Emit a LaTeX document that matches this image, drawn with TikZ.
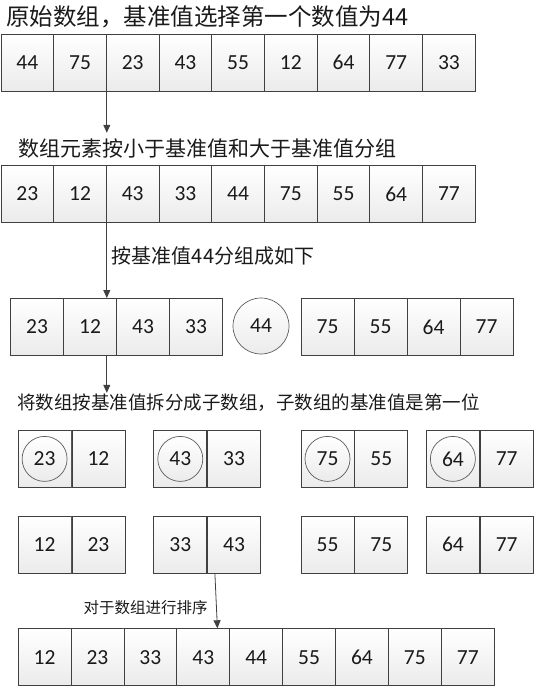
\documentclass[tikz,border=0pt]{standalone}
\usepackage{fontspec}
\setmainfont{Carlito}
\newfontfamily\cjk{Noto Sans CJK SC}
\usetikzlibrary{arrows.meta,calc}
\definecolor{edge}{HTML}{404040}
\definecolor{cellbot}{HTML}{EBEBEB}
\definecolor{txt}{HTML}{1A1A1A}
\tikzset{
  cellbox/.style={draw=edge, line width=0.8pt, top color=white, bottom color=cellbot,
    minimum width=52.8pt, minimum height=57pt, inner sep=0pt, anchor=north west,
    font=\fontsize{21.5}{24}\selectfont, text=txt},
  pivot/.style={circle, draw=edge!85, line width=0.7pt, top color=white, bottom color=cellbot,
    inner sep=0pt, minimum size=45pt, font=\fontsize{21.5}{24}\selectfont, text=txt},
  flow/.style={draw=edge, line width=0.8pt, -{Triangle[width=7pt,length=8pt]}},
  title/.style={anchor=west, inner sep=0pt, text=txt, font=\cjk\fontsize{#1}{#1}\selectfont}
}
\begin{document}
\begin{tikzpicture}[x=1pt,y=-1pt]
\useasboundingbox (0,0) rectangle (534,688);
% titles
\node[title=23.5] (t1) at (6,17) {原始数组，基准值选择第一个数值为44};
\node[title=21] (t2) at (18.3,148) {数组元素按小于基准值和大于基准值分组};
\node[title=20] (t3) at (111.7,256) {按基准值44分组成如下};
\node[title=18.5] (t4) at (17,403) {将数组按基准值拆分成子数组，子数组的基准值是第一位};
\node[title=15.5] (t5) at (83.5,608) {对于数组进行排序};
% row 1
\foreach \v [count=\i] in {44,75,23,43,55,12,64,77,33}
  \node[cellbox] (r1c\i) at ({0.5+(\i-1)*52.7},33.5) {\v};
% row 2
\foreach \v [count=\i] in {23,12,43,33,44,75,55,64,77}
  \node[cellbox] (r2c\i) at ({0.5+(\i-1)*52.7},165) {\v};
% row 3
\foreach \v [count=\i] in {23,12,43,33}
  \node[cellbox,minimum width=53pt] (r3c\i) at ({10.2+(\i-1)*53},298) {\v};
\node[pivot,minimum size=56pt] (p44) at (261,326) {44};
\foreach \v [count=\i] in {75,55,64,77}
  \node[cellbox,minimum width=53pt] (r3d\i) at ({300.6+(\i-1)*53},298) {\v};
% row 4 and row 5
\foreach \x/\a/\b [count=\k] in {17.7/23/12, 153.4/43/33, 300.6/75/55, 426/64/77} {
  \node[cellbox,minimum width=53pt] (q\k a) at (\x,430) {};
  \node[pivot] (q\k p) at (q\k a.center) {\a};
  \node[cellbox,minimum width=53pt] (q\k b) at (q\k a.north east) {\b};
}
\foreach \x/\a/\b [count=\k] in {17.7/12/23, 153.4/33/43, 300.6/55/75, 426/64/77} {
  \node[cellbox,minimum width=53pt] (s\k a) at (\x,515.7) {\a};
  \node[cellbox,minimum width=53pt] (s\k b) at (s\k a.north east) {\b};
}
% row 6
\foreach \v [count=\i] in {12,23,33,43,44,55,64,75,77}
  \node[cellbox,minimum width=52.9pt] (r6c\i) at ({17.7+(\i-1)*52.9},628.3) {\v};
% connectors
\path (r1c2.south east) ++(0,41.5) coordinate (e1);
\draw[flow] (r1c2.south east) -- (e1);
\draw[flow] (r2c2.south east) -- (r2c2.south east |- r3c2.north);
\path (r2c2.south east |- r3c2.south) ++(0,37) coordinate (e3);
\draw[flow] (r2c2.south east |- r3c2.south) -- (e3);
\draw[flow] ($(s2b.south west)+(7.7,0)$) -- ($(r6c4.north west)+(41,0)$);
\end{tikzpicture}
\end{document}
